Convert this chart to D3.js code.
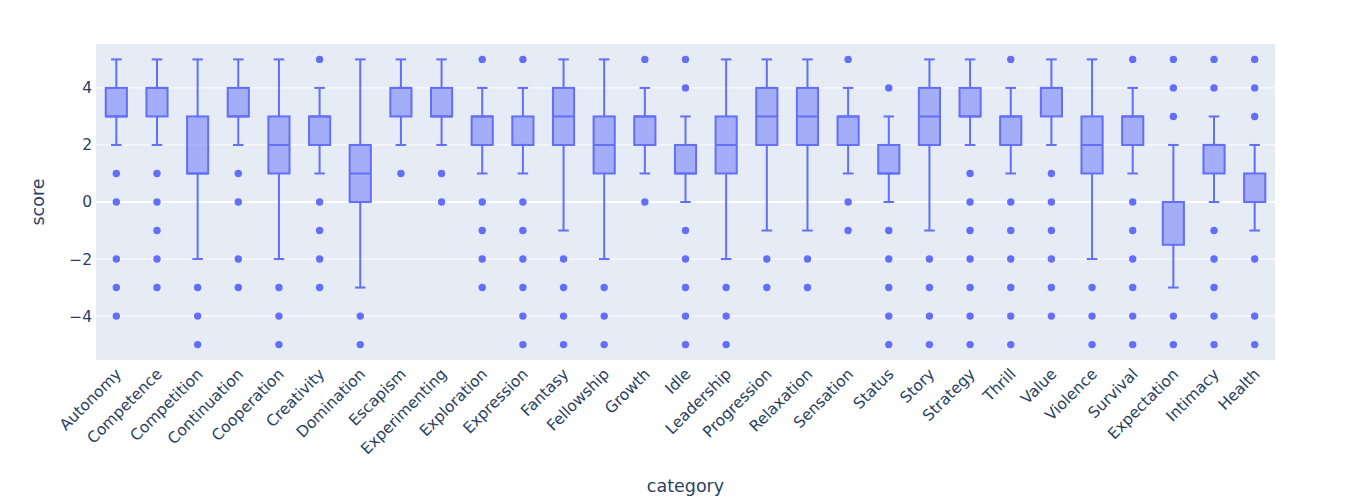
<!DOCTYPE html>
<html>
<head>
<meta charset="utf-8">
<script src="https://cdn.jsdelivr.net/npm/d3@7"></script>
<style>
  body { margin: 0; background: #fff; }
  svg { display: block; font-family: "DejaVu Sans", Verdana, sans-serif; }
</style>
</head>
<body>
<script>
const categories = ["Autonomy", "Competence", "Competition", "Continuation", "Cooperation", "Creativity",
	"Domination", "Escapism", "Experimenting", "Exploration", "Expression", "Fantasy", "Fellowship",
	"Growth", "Idle", "Leadership", "Progression", "Relaxation", "Sensation", "Status", "Story",
	"Strategy", "Thrill", "Value", "Violence", "Survival", "Expectation", "Intimacy", "Health"];
const lowerFence = [2, 2, -2, 2, -2, 1, -3, 2, 2, 1, 1, -1, -2, 1, 0, -2, -1, -1, 1, 0, -1, 2, 1, 2, -2, 1, -3, 0, -1];
const q1 = [3, 3, 1, 3, 1, 2, 0, 3, 3, 2, 2, 2, 1, 2, 1, 1, 2, 2, 2, 1, 2, 3, 2, 3, 1, 2, -1.5, 1, 0];
const median = [3, 4, 1, 3, 2, 3, 1, 4, 3, 3, 2, 3, 2, 3, 1, 2, 3, 3, 3, 1, 3, 3, 3, 4, 2, 3, 0, 2, 0];
const q3 = [4, 4, 3, 4, 3, 3, 2, 4, 4, 3, 3, 4, 3, 3, 2, 3, 4, 4, 3, 2, 4, 4, 3, 4, 3, 3, 0, 2, 1];
const upperFence = [5, 5, 5, 5, 5, 4, 5, 5, 5, 4, 4, 5, 5, 4, 3, 5, 5, 5, 4, 3, 5, 5, 4, 5, 5, 4, 2, 3, 2];
const outliers = [
	[1, 0, -2, -3, -4],
	[1, 0, -1, -2, -3],
	[-3, -4, -5],
	[1, 0, -2, -3],
	[-3, -4, -5],
	[5, 0, -1, -2, -3],
	[-4, -5],
	[1],
	[1, 0],
	[5, 0, -1, -2, -3],
	[5, 0, -1, -2, -3, -4, -5],
	[-2, -3, -4, -5],
	[-3, -4, -5],
	[5, 0],
	[5, 4, -1, -2, -3, -4, -5],
	[-3, -4, -5],
	[-2, -3],
	[-2, -3],
	[5, 0, -1],
	[4, -1, -2, -3, -4, -5],
	[-2, -3, -4, -5],
	[1, 0, -1, -2, -3, -4, -5],
	[5, 0, -1, -2, -3, -4, -5],
	[1, 0, -1, -2, -3, -4],
	[-3, -4, -5],
	[5, 0, -1, -2, -3, -4, -5],
	[5, 4, 3, -4, -5],
	[5, 4, -1, -2, -3, -4, -5],
	[5, 4, 3, -2, -4, -5],
];
const yTicks = [-4, -2, 0, 2, 4];

const width = 1357, height = 503;
const margin = { top: 44, right: 82, bottom: 143, left: 96 };
const colors = {
	line: "#636efa",
	fill: "rgba(99,110,250,0.5)",
	plotBg: "#e5ecf6",
	grid: "#ffffff",
	text: "#2a3f5f",
};
const fontFamily = "'DejaVu Sans', Verdana, sans-serif";

const boxes = categories.map((c, i) => ({
	cat: c, lo: lowerFence[i], q1: q1[i], med: median[i], q3: q3[i], hi: upperFence[i], out: outliers[i],
}));

const svg = d3.select("body").append("svg")
	.attr("width", width)
	.attr("height", height);

const x = d3.scaleBand()
	.domain(categories)
	.range([margin.left, width - margin.right]);
const y = d3.scaleLinear()
	.domain([-5.54, 5.54])
	.range([height - margin.bottom, margin.top]);

// plot background
svg.append("rect")
	.attr("x", margin.left)
	.attr("y", margin.top)
	.attr("width", width - margin.left - margin.right)
	.attr("height", height - margin.top - margin.bottom)
	.attr("fill", colors.plotBg);

// grid
svg.append("g")
	.selectAll("line")
	.data(yTicks)
	.enter()
	.append("line")
	.attr("x1", margin.left)
	.attr("x2", width - margin.right)
	.attr("y1", (d) => y(d))
	.attr("y2", (d) => y(d))
	.attr("stroke", colors.grid)
	.attr("stroke-width", (d) => (d === 0 ? 2 : 1));

// y axis
const yAxis = svg.append("g")
	.attr("transform", `translate(${margin.left},0)`)
	.call(d3.axisLeft(y).tickValues(yTicks).tickSize(0).tickPadding(4));
yAxis.select(".domain").remove();
yAxis.selectAll("text")
	.attr("fill", colors.text)
	.style("font-size", "15.5px")
	.style("font-family", fontFamily);

// x axis
const xAxis = svg.append("g")
	.attr("transform", `translate(0,${height - margin.bottom})`)
	.call(d3.axisBottom(x).tickSize(0).tickPadding(0));
xAxis.select(".domain").remove();
xAxis.selectAll("text")
	.attr("fill", colors.text)
	.attr("text-anchor", "end")
	.attr("dy", "0")
	.attr("transform", "translate(6,15) rotate(-45)")
	.style("font-size", "15.5px")
	.style("font-family", fontFamily);

// boxes
const boxW = x.bandwidth() * 0.52;
const g = svg.append("g")
	.selectAll("g")
	.data(boxes)
	.enter()
	.append("g")
	.attr("transform", (d) => `translate(${x(d.cat) + x.bandwidth() / 2},0)`);

g.append("line")
	.attr("y1", (d) => y(d.hi))
	.attr("y2", (d) => y(d.q3))
	.attr("stroke", colors.line)
	.attr("stroke-width", 2);
g.append("line")
	.attr("y1", (d) => y(d.q1))
	.attr("y2", (d) => y(d.lo))
	.attr("stroke", colors.line)
	.attr("stroke-width", 2);
g.selectAll(".cap")
	.data((d) => [d.lo, d.hi])
	.enter()
	.append("line")
	.attr("x1", -boxW / 4)
	.attr("x2", boxW / 4)
	.attr("y1", (v) => y(v))
	.attr("y2", (v) => y(v))
	.attr("stroke", colors.line)
	.attr("stroke-width", 2);
g.append("rect")
	.attr("x", -boxW / 2)
	.attr("width", boxW)
	.attr("y", (d) => y(d.q3))
	.attr("height", (d) => y(d.q1) - y(d.q3))
	.attr("fill", colors.fill)
	.attr("stroke", colors.line)
	.attr("stroke-width", 2);
g.append("line")
	.attr("x1", -boxW / 2)
	.attr("x2", boxW / 2)
	.attr("y1", (d) => y(d.med))
	.attr("y2", (d) => y(d.med))
	.attr("stroke", colors.line)
	.attr("stroke-width", 2);
g.selectAll("circle")
	.data((d) => d.out)
	.enter()
	.append("circle")
	.attr("cy", (v) => y(v))
	.attr("r", 3.7)
	.attr("fill", colors.line);

// axis titles
svg.append("text")
	.attr("x", margin.left + (width - margin.left - margin.right) / 2)
	.attr("y", 492)
	.attr("text-anchor", "middle")
	.attr("fill", colors.text)
	.style("font-size", "17.5px")
	.text("category");
svg.append("text")
	.attr("transform", `translate(44,${y(0)}) rotate(-90)`)
	.attr("text-anchor", "middle")
	.attr("fill", colors.text)
	.style("font-size", "17.5px")
	.text("score");
</script>
</body>
</html>
